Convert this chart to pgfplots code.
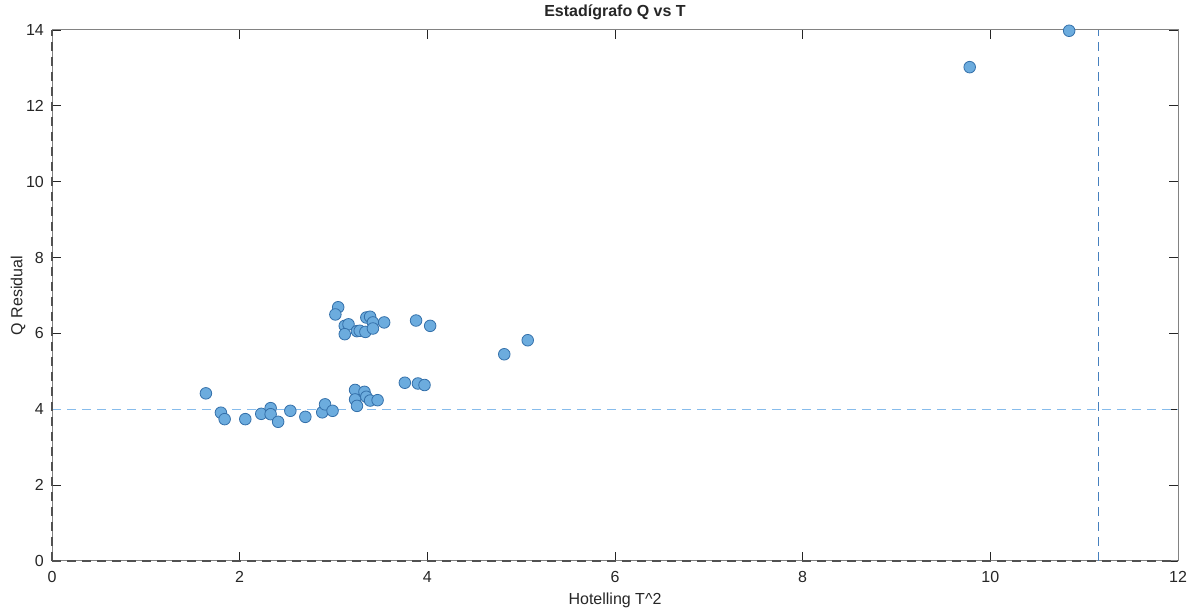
\documentclass[border=0pt]{standalone}
\usepackage{fontspec}
\setmainfont{Liberation Sans}
\usepackage{pgfplots}
\pgfplotsset{compat=1.18}
\definecolor{ptfill}{RGB}{108,172,222}
\definecolor{ptedge}{RGB}{52,112,170}
\definecolor{hline}{RGB}{135,188,236}
\definecolor{vline}{RGB}{70,128,190}
\definecolor{axgray}{RGB}{38,38,38}
\definecolor{boxgray}{RGB}{130,130,130}

\begin{document}
\begin{tikzpicture}
\path[use as bounding box] (0,0) rectangle (1190pt,612pt);
\begin{axis}[
    at={(52pt,51pt)}, anchor=south west,
    scale only axis,
    width=1126pt, height=531pt,
    xmin=0, xmax=12, ymin=0, ymax=14,
    xtick={0,2,...,12}, ytick={0,2,...,14},
    tick align=inside,
    major tick length=9pt,
    axis line style={draw=boxgray, line width=1pt},
    tick style={draw=axgray, line width=0.8pt},
    ticklabel style={font=\fontsize{16}{18}\selectfont, text=axgray, inner sep=0pt},
    xticklabel style={anchor=center, yshift=-16pt},
    yticklabel style={anchor=east, xshift=-8pt},
    /pgf/number format/assume math mode=true,
    title={\bfseries Estadígrafo Q vs T},
    title style={font=\fontsize{16}{18}\selectfont, text=axgray, at={(0.5,1)}, anchor=center, yshift=12pt},
    xlabel={Hotelling T\^{}2},
    ylabel={Q Residual},
    label style={font=\fontsize{16}{18}\selectfont, text=axgray},
    xlabel style={at={(0.5,0)}, anchor=center, yshift=-39pt},
    ylabel style={at={(0,0.5)}, anchor=center, yshift=34pt},
    clip=false,
]
% reference lines
\addplot[draw=hline, line width=1.5pt, dash pattern=on 9pt off 6pt] coordinates {(0,4) (12,4)};
\addplot[draw=vline, line width=1.3pt, dash pattern=on 9pt off 6pt] coordinates {(11.15,0) (11.15,14)};
\addplot[draw=axgray!80, line width=1.2pt, dash pattern=on 9pt off 6pt] coordinates {(0,0) (12,0)};
\addplot[draw=axgray!80, line width=1.2pt, dash pattern=on 9pt off 6pt] coordinates {(0,0) (0,14)};
% observations
\addplot[only marks, mark=*, mark size=5.8pt,
    mark options={fill=ptfill, draw=ptedge, line width=0.8pt}] coordinates {
    (1.64,4.42) (1.80,3.91) (1.84,3.74) (2.06,3.74) (2.23,3.88)
    (2.33,4.03) (2.33,3.87) (2.41,3.67) (2.54,3.96) (2.70,3.80)
    (2.88,3.92) (2.91,4.13) (2.99,3.96)
    (3.05,6.69) (3.02,6.50) (3.12,6.20) (3.16,6.24) (3.12,5.98)
    (3.25,6.06) (3.28,6.07) (3.34,6.04) (3.35,6.42) (3.39,6.44)
    (3.42,6.29) (3.42,6.13) (3.54,6.29) (3.88,6.34) (4.03,6.20)
    (3.23,4.51) (3.23,4.26) (3.25,4.09) (3.33,4.46) (3.35,4.33)
    (3.39,4.23) (3.47,4.24) (3.76,4.70) (3.90,4.68) (3.97,4.64)
    (4.82,5.45) (5.07,5.82)
    (9.78,13.02) (10.84,13.98)
};
\end{axis}
\end{tikzpicture}
\end{document}
